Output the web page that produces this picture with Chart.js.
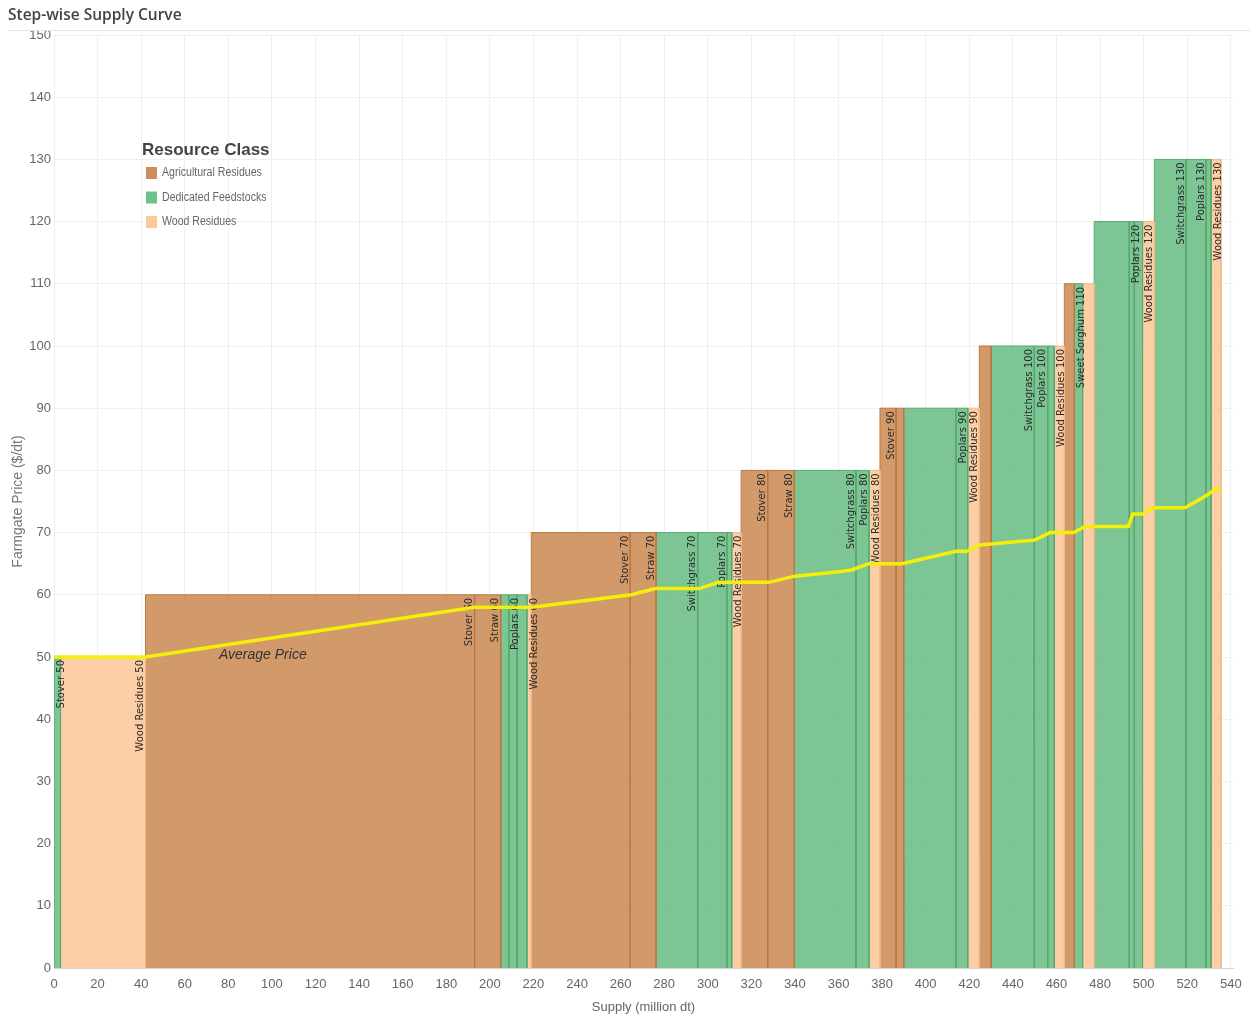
<!DOCTYPE html>
<html>
<head>
<meta charset="utf-8">
<title>Step-wise Supply Curve</title>
<script src="https://cdn.jsdelivr.net/npm/chart.js@4.4.1/dist/chart.umd.min.js"></script>
<style>
  html, body { margin: 0; padding: 0; background: #fff; }
  #wrap { position: relative; width: 1260px; height: 1017px; }
</style>
</head>
<body>
<div id="wrap"><canvas id="chart" width="1260" height="1017"></canvas></div>
<script>
// resource classes (legend)
const classNames = ['Agricultural Residues', 'Dedicated Feedstocks', 'Wood Residues'];
const classFill = ['rgba(202,136,80,0.85)', 'rgba(102,187,129,0.85)', 'rgba(253,198,150,0.85)'];
const classLine = ['#bd773f', '#56aa6c', '#f2bb8b'];
const classSwatch = ['#cc8e5c', '#6fc18b', '#fcc99b'];

// supply steps: label, class index, start / end supply (million dt), price ($/dt)
const segmentLabels = [
    'Stover 50', 'Wood Residues 50',
    'Stover 60', 'Straw 60', '', 'Poplars 60', '', 'Wood Residues 60',
    'Stover 70', 'Straw 70', 'Switchgrass 70', 'Poplars 70', '', 'Wood Residues 70',
    'Stover 80', 'Straw 80', 'Switchgrass 80', 'Poplars 80', 'Wood Residues 80',
    'Stover 90', '', '', 'Poplars 90', 'Wood Residues 90',
    '', 'Switchgrass 100', 'Poplars 100', '', 'Wood Residues 100',
    '', 'Sweet Sorghum 110', '',
    '', 'Poplars 120', '', 'Wood Residues 120',
    'Switchgrass 130', 'Poplars 130', '', 'Wood Residues 130'
];
const segmentClasses = [
    1, 2,
    0, 0, 1, 1, 1, 2,
    0, 0, 1, 1, 1, 2,
    0, 0, 1, 1, 2,
    0, 0, 1, 1, 2,
    0, 1, 1, 1, 2,
    0, 1, 2,
    1, 1, 1, 2,
    1, 1, 1, 2
];
const segmentStarts = [
    0, 3,
    42, 193, 205, 208.7, 212.4, 217,
    219, 264.4, 276.3, 295.4, 308.8, 311,
    315.3, 327.5, 339.7, 368, 374,
    379, 386.4, 389.9, 413.9, 419.3,
    424.6, 430, 449.8, 456, 459,
    463.6, 468.2, 472,
    477.3, 493.4, 495.7, 499.5,
    504.9, 519.4, 528.6, 530.9
];
const segmentEnds = [
    3, 42,
    193, 205, 208.7, 212.4, 217, 219,
    264.4, 276.3, 295.4, 308.8, 311, 315.3,
    327.5, 339.7, 368, 374, 379,
    386.4, 389.9, 413.9, 419.3, 424.6,
    430, 449.8, 456, 459, 463.6,
    468.2, 472, 477.3,
    493.4, 495.7, 499.5, 504.9,
    519.4, 528.6, 530.9, 535.5
];
const segmentPrices = [
    50, 50,
    60, 60, 60, 60, 60, 60,
    70, 70, 70, 70, 70, 70,
    80, 80, 80, 80, 80,
    90, 90, 90, 90, 90,
    100, 100, 100, 100, 100,
    110, 110, 110,
    120, 120, 120, 120,
    130, 130, 130, 130
];

// average price curve
const avgSupply = [0, 42, 193, 219, 265, 276, 296, 305, 328, 340, 360, 366, 374, 389, 414, 419, 425, 450, 457, 468, 473, 493, 495, 499.5, 504, 519, 529, 533, 535.5];
const avgPrice = [50, 50, 58, 58, 60, 61, 61, 62, 62, 63, 63.7, 64, 65, 65, 67, 67, 68, 68.8, 70, 70, 71, 71, 73, 73, 74, 74, 76, 77, 77];

const tickFont = { family: '"Liberation Sans", Arial, sans-serif', size: 13 };

const datasets = [{
    label: 'Average Price',
    data: avgSupply.map((x, i) => ({ x: x, y: avgPrice[i] })),
    borderColor: '#f3ee0a',
    borderWidth: 3.5,
    fill: false,
    pointRadius: 0,
    tension: 0,
    order: 0
}];

segmentStarts.forEach((start, i) => {
    const end = segmentEnds[i];
    const price = segmentPrices[i];
    const cls = segmentClasses[i];
    datasets.push({
        label: segmentLabels[i],
        data: [{ x: start, y: 0 }, { x: start, y: price }, { x: end, y: price }, { x: end, y: 0 }],
        fill: 'origin',
        backgroundColor: classFill[cls],
        borderColor: classLine[cls],
        borderWidth: 1,
        pointRadius: 0,
        tension: 0,
        order: 1
    });
});

// step labels, drawn just before the average line so the line sits on top
const stepLabelPlugin = {
    id: 'stepLabels',
    beforeDatasetDraw(chart, args) {
        if (args.index !== 0) return;
        const ctx = chart.ctx;
        const xs = chart.scales.x;
        const ys = chart.scales.y;
        ctx.save();
        ctx.font = '10px "DejaVu Sans", sans-serif';
        ctx.fillStyle = '#2a2a2a';
        ctx.textAlign = 'right';
        ctx.textBaseline = 'middle';
        segmentLabels.forEach((text, i) => {
            if (!text) return;
            const px = Math.max(xs.getPixelForValue(segmentEnds[i]) - 5, xs.getPixelForValue(segmentStarts[i]) + 7);
            const py = ys.getPixelForValue(segmentPrices[i]) + 3;
            ctx.save();
            ctx.translate(px, py);
            ctx.rotate(-Math.PI / 2);
            ctx.fillText(text, 0, 0);
            ctx.restore();
        });
        ctx.restore();
    }
};

// title, legend and curve caption
const decorPlugin = {
    id: 'decor',
    afterDraw(chart) {
        const ctx = chart.ctx;
        ctx.save();
        ctx.fillStyle = '#444';
        ctx.font = '600 15.5px "Open Sans", sans-serif';
        ctx.textAlign = 'left';
        ctx.textBaseline = 'middle';
        ctx.fillText('Step-wise Supply Curve', 8, 16);

        ctx.strokeStyle = '#e6e6e6';
        ctx.lineWidth = 1;
        ctx.beginPath();
        ctx.moveTo(8, 30.5);
        ctx.lineTo(1250, 30.5);
        ctx.stroke();

        ctx.fillStyle = '#444';
        ctx.font = 'bold 17px "Liberation Sans", Arial, sans-serif';
        ctx.fillText('Resource Class', 142, 150);

        classNames.forEach((name, i) => {
            const y = 173 + i * 24.5;
            ctx.fillStyle = classSwatch[i];
            ctx.fillRect(146, y - 6, 11, 12);
            ctx.save();
            ctx.translate(162, y);
            ctx.scale(0.88, 1);
            ctx.fillStyle = '#666';
            ctx.font = '12px "Liberation Sans", Arial, sans-serif';
            ctx.fillText(name, 0, 0);
            ctx.restore();
        });

        ctx.fillStyle = '#333';
        ctx.font = 'italic 14px "Liberation Sans", Arial, sans-serif';
        ctx.fillText('Average Price', 219, 655);
        ctx.restore();
    }
};

const chart = new Chart(document.getElementById('chart').getContext('2d'), {
    type: 'line',
    data: { datasets: datasets },
    options: {
        responsive: false,
        animation: false,
        devicePixelRatio: 1,
        layout: { padding: { top: 35, right: 27, left: 0, bottom: 0 } },
        plugins: {
            legend: { display: false },
            tooltip: { enabled: false }
        },
        scales: {
            x: {
                type: 'linear',
                min: 0,
                max: 541,
                ticks: { stepSize: 20, includeBounds: false, padding: 9, color: '#666', font: tickFont, maxRotation: 0, autoSkip: false },
                grid: { color: '#efefef', drawTicks: false },
                border: { color: '#d4d4d4' },
                title: { display: true, text: 'Supply (million dt)', color: '#666', font: tickFont, padding: { top: 2, bottom: 2 } },
                afterFit: scale => { scale.height = 49; }
            },
            y: {
                type: 'linear',
                min: 0,
                max: 150,
                ticks: { stepSize: 10, padding: 3, color: '#666', font: tickFont },
                grid: { color: '#efefef', drawTicks: false },
                border: { display: false },
                title: { display: true, text: 'Farmgate Price ($/dt)', color: '#777', font: { family: tickFont.family, size: 14 }, padding: { top: 10, bottom: 0 } },
                afterFit: scale => { scale.width = 54; }
            }
        }
    },
    plugins: [stepLabelPlugin, decorPlugin]
});
</script>
</body>
</html>
